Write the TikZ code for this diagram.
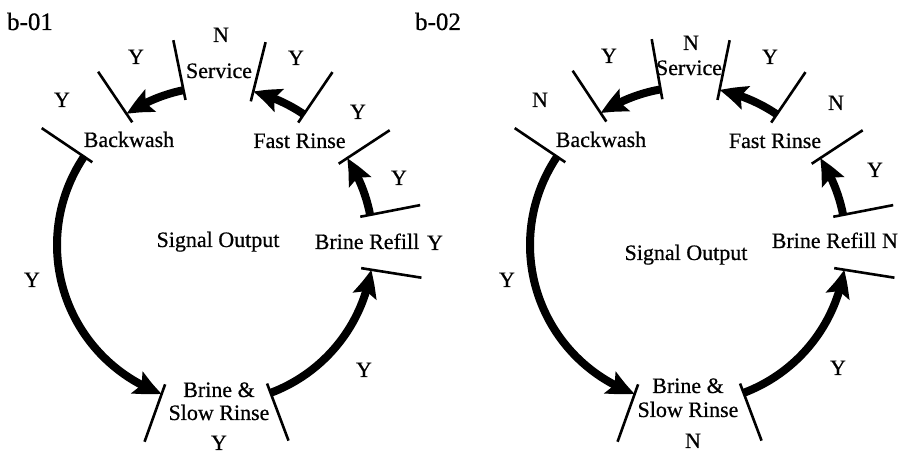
\documentclass[tikz,border=0pt]{standalone}
\usepackage{fontspec}
\setmainfont{Liberation Serif}
\newfontfamily\lblfont{Liberation Serif}[FakeBold=0.6]
\usetikzlibrary{arrows.meta,bending}
\tikzset{
  lbl/.style={font=\lblfont\fontsize{22}{24}\selectfont, anchor=base, inner sep=0pt},
  ttl/.style={font=\lblfont\fontsize{25}{27}\selectfont, anchor=base, inner sep=0pt},
  tickline/.style={line width=2.6pt},
  flow/.style={line width=8pt, -{Stealth[length=27pt,width=24pt,inset=5pt,bend]}},
}
\begin{document}
\begin{tikzpicture}[x=1pt,y=1pt]
\useasboundingbox (0,0) rectangle (909,454);
\node[ttl] (t1) at (30,424) {b-01};
\node[ttl] (t2) at (438,424) {b-02};

% ---------- left diagram ----------
\begin{scope}[shift={(215,209)}, name prefix=L-]
  \foreach \n/\a in {bwA/146, bwB/124, svA/101.5, svB/76, frA/55.8, frB/33.3, brA/11, brB/-9, bsA/250.3, bsB/290.6}{
    \draw[tickline] (\a:148) -- (\a:209);
    \coordinate (\n) at (\a:158);
  }
  \draw[flow] (svA) arc[start angle=101.5, end angle=124, radius=158];
  \draw[flow] (frA) arc[start angle=55.8, end angle=76, radius=158];
  \draw[flow] (brA) arc[start angle=11, end angle=33.3, radius=158];
  \draw[flow] (bwA) arc[start angle=146, end angle=250.3, radius=158];
  \draw[flow] (bsB) arc[start angle=290.6, end angle=351, radius=158];

  \node[lbl] (sv) at (4,167) {Service};
  \node[lbl] (bw) at (-86,98) {Backwash};
  \node[lbl] (fr) at (84.5,97) {Fast Rinse};
  \node[lbl] (br) at (152,-4) {Brine Refill};
  \node[lbl] (so) at (3,-2) {Signal Output};
  \node[lbl] (bs1) at (4,-152) {Brine \&};
  \node[lbl] (bs2) at (4,-175) {Slow Rinse};

  \node[lbl] (s1) at (6,203) {N};
  \node[lbl] (s2) at (-79,181) {Y};
  \node[lbl] (s3) at (-153,138) {Y};
  \node[lbl] (s4) at (81,180) {Y};
  \node[lbl] (s5) at (143,126) {Y};
  \node[lbl] (s6) at (184,60) {Y};
  \node[lbl] (s7) at (220,-5) {Y};
  \node[lbl] (s8) at (-183,-42) {Y};
  \node[lbl] (s9) at (4,-205) {Y};
  \node[lbl] (s10) at (149,-132) {Y};
\end{scope}

% ---------- right diagram ----------
\begin{scope}[shift={(688,209)}, name prefix=R-]
  \foreach \n/\a in {bwA/146, bwB/123.5, svA/100, svB/78.5, frA/55.8, frB/33.3, brA/11, brB/-9, bsA/250.3, bsB/290.6}{
    \draw[tickline] (\a:148) -- (\a:209);
    \coordinate (\n) at (\a:158);
  }
  \draw[flow] (svA) arc[start angle=100, end angle=123.5, radius=158];
  \draw[flow] (frA) arc[start angle=55.8, end angle=78.5, radius=158];
  \draw[flow] (brA) arc[start angle=11, end angle=33.3, radius=158];
  \draw[flow] (bwA) arc[start angle=146, end angle=250.3, radius=158];
  \draw[flow] (bsB) arc[start angle=290.6, end angle=351, radius=158];

  \node[lbl] (sv) at (1,170) {Service};
  \node[lbl] (bw) at (-87,98) {Backwash};
  \node[lbl] (fr) at (87,97) {Fast Rinse};
  \node[lbl] (br) at (136,-3) {Brine Refill};
  \node[lbl] (so) at (-2,-15) {Signal Output};
  \node[lbl] (bs1) at (0,-148) {Brine \&};
  \node[lbl] (bs2) at (0,-172) {Slow Rinse};

  \node[lbl] (s1) at (3,195) {N};
  \node[lbl] (s2) at (-79,182) {Y};
  \node[lbl] (s3) at (-148,138) {N};
  \node[lbl] (s4) at (82,181) {Y};
  \node[lbl] (s5) at (148,135) {N};
  \node[lbl] (s6) at (187,68) {Y};
  \node[lbl] (s7) at (202,-3) {N};
  \node[lbl] (s8) at (-181,-42) {Y};
  \node[lbl] (s9) at (5,-203) {N};
  \node[lbl] (s10) at (150,-130) {Y};
\end{scope}
\end{tikzpicture}
\end{document}
